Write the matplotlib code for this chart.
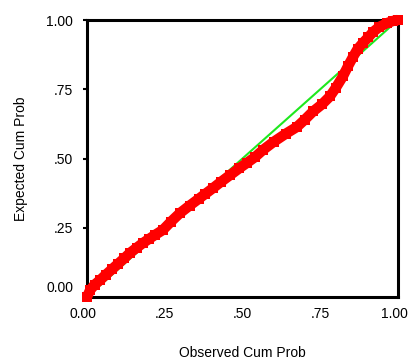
import matplotlib
matplotlib.use("Agg")
import matplotlib.pyplot as plt
import matplotlib.transforms as mtransforms

# observed vs expected cumulative probabilities
observed = [0.0, 0.01, 0.025, 0.042, 0.06, 0.08, 0.1, 0.12, 0.138, 0.16, 0.18, 0.2,
            0.22, 0.244, 0.27, 0.299, 0.33, 0.36, 0.38, 0.405, 0.43, 0.46, 0.49,
            0.514, 0.54, 0.566, 0.6, 0.64, 0.675, 0.7, 0.727, 0.755, 0.781, 0.80,
            0.823, 0.84, 0.855, 0.87, 0.887, 0.905, 0.92, 0.94, 0.965, 0.985, 1.0]
expected = [0.0, 0.025, 0.045, 0.061, 0.08, 0.1, 0.12, 0.14, 0.159, 0.178, 0.195, 0.21,
            0.225, 0.242, 0.272, 0.303, 0.33, 0.355, 0.372, 0.393, 0.415, 0.44, 0.465,
            0.484, 0.505, 0.531, 0.56, 0.59, 0.614, 0.64, 0.67, 0.695, 0.724, 0.755,
            0.797, 0.835, 0.866, 0.895, 0.917, 0.938, 0.957, 0.975, 0.989, 0.997, 1.0]
ref_line = [0.0, 1.0]
ticks = [0.0, 0.25, 0.5, 0.75, 1.0]
tick_labels = ["0.00", ".25", ".50", ".75", "1.00"]

plt.rcParams['font.family'] = ['Liberation Sans', 'DejaVu Sans']

fig = plt.figure(figsize=(4.09, 3.6), dpi=100)
ax = fig.add_axes([87/409, 63/360, 311/409, 277/360])

ax.plot(ref_line, ref_line, color="#1ee81e", lw=1.5, zorder=2)
ax.plot(observed, expected, color="red", lw=7.5, solid_capstyle="butt", zorder=3, clip_on=False)
ax.plot(observed, expected, "s", color="red", ms=7.5, mew=0, zorder=4, clip_on=False)

ax.set_xlim(0, 1)
ax.set_ylim(0, 1)
ax.set_xticks(ticks)
ax.set_xticklabels(tick_labels)
ax.set_yticks(ticks)
ax.set_yticklabels(tick_labels)
ax.tick_params(axis="x", length=0, pad=7, labelsize=10)
ax.tick_params(axis="y", length=3, width=1.5, pad=7, labelsize=10)
for s in ax.spines.values():
    s.set_linewidth(2.2)

def nudge(label, dx, dy):
    label.set_transform(label.get_transform() +
                        mtransforms.ScaledTranslation(dx/100, dy/100, fig.dpi_scale_trans))

# SPSS nudges the end labels inward
nudge(ax.get_yticklabels()[0], 0, 10)
nudge(ax.get_xticklabels()[0], -4, 0)
nudge(ax.get_xticklabels()[-1], -4, 0)

ax.set_xlabel("Observed Cum Prob", fontsize=10, labelpad=18)
ax.set_ylabel("Expected Cum Prob", fontsize=10, labelpad=13)

fig.savefig("out.png", dpi=100)
